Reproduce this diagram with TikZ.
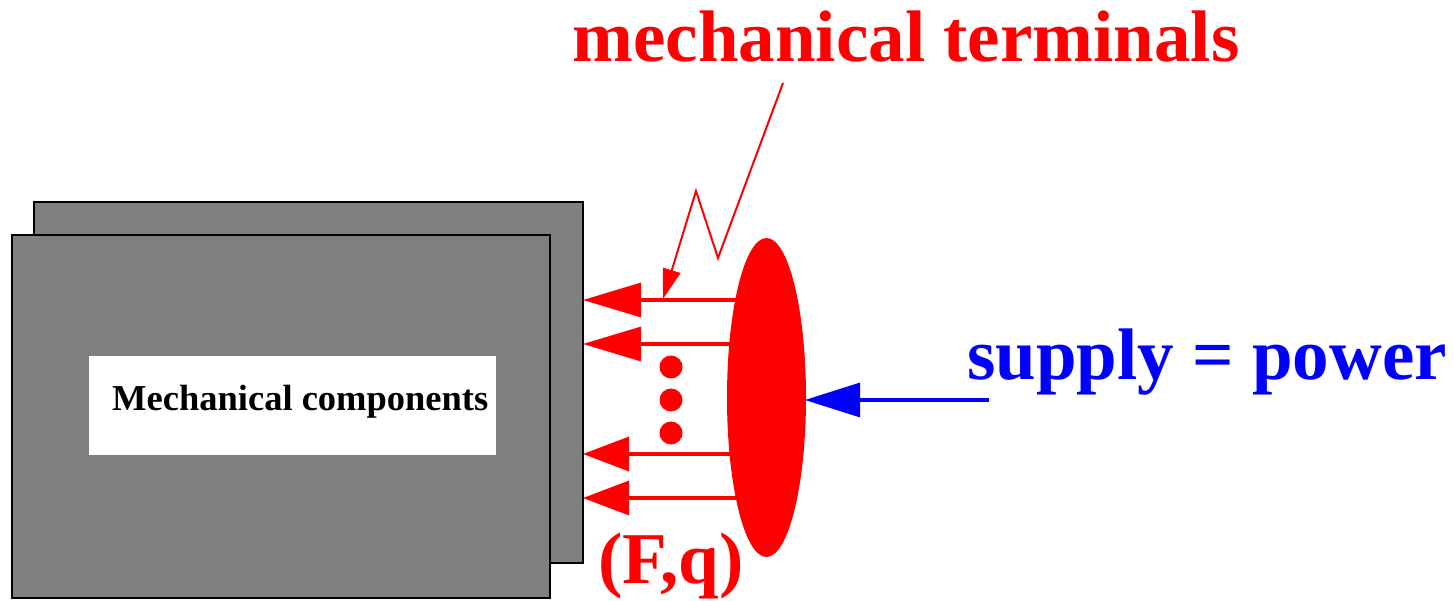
\documentclass[tikz,border=0pt]{standalone}
\usepackage{fontspec}
\setmainfont{Liberation Serif}
\usetikzlibrary{arrows.meta,shapes.geometric}
\begin{document}
\begin{tikzpicture}[x=1pt,y=-1pt,
  box/.style={draw=black,line width=1.8pt,fill=black!50},
  redarr/.style={draw=red,line width=3.3pt,-{Triangle[length=58pt,width=34pt]}},
  bluearr/.style={draw=blue,line width=3.3pt,-{Triangle[length=55pt,width=34pt]}},
  thinarr/.style={draw=red,line width=2pt,-{Triangle[length=30pt,width=18pt]}},
  big/.style={font=\fontsize{73}{80}\selectfont\bfseries},
  dotn/.style={circle,fill=red,inner sep=0pt,minimum size=23pt}]
\useasboundingbox (0,0) rectangle (1454,601);
% boxes
\draw[box] (34,202) rectangle (583,563);
\draw[box] (12,235) rectangle (550,598);
\fill[white] (89,356) rectangle (496,455);
\node[anchor=base west,inner sep=0pt,font=\fontsize{36.5}{40}\selectfont\bfseries] (mc) at (112,410) {Mechanical components};
% ellipse
\node[ellipse,fill=red,minimum width=79pt,minimum height=319pt,inner sep=0pt] (ell) at (766.5,397.5) {};
% arrows
\coordinate (s1) at (737,300); \coordinate (t1) at (583,300);
\coordinate (s2) at (733,344); \coordinate (t2) at (583,344);
\coordinate (s3) at (733,454); \coordinate (t3) at (583,454);
\coordinate (s4) at (737,498); \coordinate (t4) at (583,498);
\draw[redarr] (s1) -- (t1);
\draw[redarr] (s2) -- (t2);
\draw[redarr,-{Triangle[length=46pt,width=34pt]}] (s3) -- (t3);
\draw[redarr,-{Triangle[length=46pt,width=34pt]}] (s4) -- (t4);
% dots
\node[dotn] (d1) at (671,367) {};
\node[dotn] (d2) at (671,400) {};
\node[dotn] (d3) at (671,433) {};
% labels
\node[big,red,anchor=base,inner sep=0pt] (mt) at (906,62) {mechanical terminals};
\node[big,blue,anchor=base west,inner sep=0pt] (sp) at (967,380) {supply = power};
\node[big,red,anchor=base,inner sep=0pt] (fq) at (671,583) {(F,q)};
% blue arrow
\coordinate (bs) at (989,400);
\coordinate (bt) at (805,400);
\draw[bluearr] (bs) -- (bt);
% zigzag pointer
\coordinate (z0) at (783,83);
\coordinate (z1) at (718,258);
\coordinate (z2) at (696,191);
\coordinate (z3) at (663,299);
\draw[thinarr] (z0) -- (z1) -- (z2) -- (z3);
\end{tikzpicture}
\end{document}
